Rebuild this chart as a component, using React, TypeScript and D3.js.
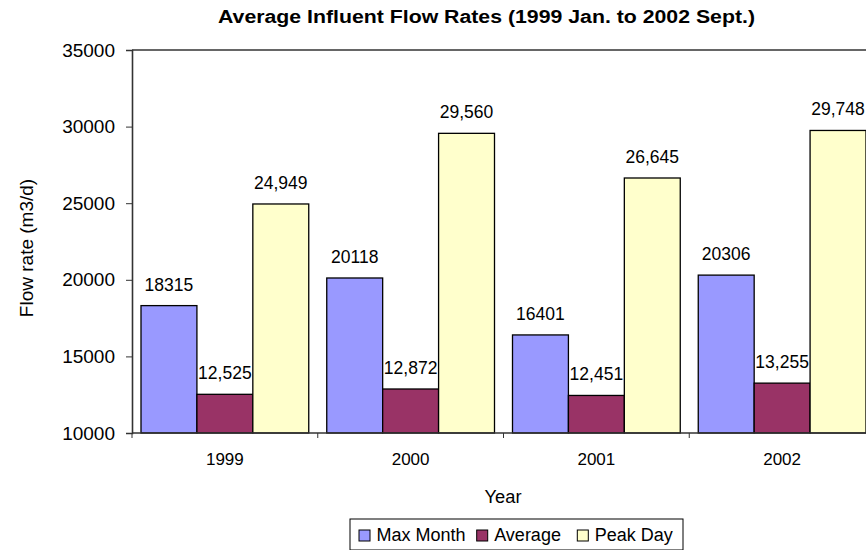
import { useEffect, useRef } from "react";
import * as d3 from "d3";

const years = ["1999", "2000", "2001", "2002"];
const seriesNames = ["Max Month", "Average", "Peak Day"];
const maxMonth = [18315, 20118, 16401, 20306];
const average = [12525, 12872, 12451, 13255];
const peakDay = [24949, 29560, 26645, 29748];
const colors = ["#9999ff", "#993366", "#ffffcc"];
const yTicks = [10000, 15000, 20000, 25000, 30000, 35000];

const App = () => {
  const svgRef = useRef<SVGSVGElement>(null);

  useEffect(() => {
    const width = 866;
    const height = 550;
    const left = 132;
    const right = 875;
    const top = 50;
    const bottom = 433;
    const font = "'Liberation Sans', Arial, sans-serif";

    const svg = d3.select(svgRef.current);
    svg.selectAll("*").remove();
    svg.attr("width", width).attr("height", height).style("font-family", font);

    const x0 = d3.scaleBand().domain(years).range([left, right]);
    const x1 = d3
      .scaleBand()
      .domain(seriesNames)
      .range([9, x0.bandwidth() - 9]);
    const y = d3.scaleLinear().domain([10000, 35000]).range([bottom, top]);

    const values = [maxMonth, average, peakDay];
    const fmt = [(v: number) => String(v), d3.format(","), d3.format(",")];

    // title
    svg
      .append("text")
      .attr("x", 486.5)
      .attr("y", 23)
      .attr("text-anchor", "middle")
      .attr("font-weight", "bold")
      .attr("font-size", 18)
      .attr("textLength", 537)
      .attr("lengthAdjust", "spacingAndGlyphs")
      .text("Average Influent Flow Rates (1999 Jan. to 2002 Sept.)");

    // top border line
    svg
      .append("line")
      .attr("x1", left)
      .attr("x2", right)
      .attr("y1", top)
      .attr("y2", top)
      .attr("stroke", "#333")
      .attr("stroke-width", 1.3);

    // bars
    seriesNames.forEach((s, si) => {
      svg
        .append("g")
        .selectAll("rect")
        .data(values[si])
        .join("rect")
        .attr("x", (d, i) => (x0(years[i]) as number) + (x1(s) as number))
        .attr("y", (d) => y(d))
        .attr("width", x1.bandwidth())
        .attr("height", (d) => bottom - y(d))
        .attr("fill", colors[si])
        .attr("stroke", "#000")
        .attr("stroke-width", 1.3);

      svg
        .append("g")
        .selectAll("text")
        .data(values[si])
        .join("text")
        .attr("x", (d, i) => (x0(years[i]) as number) + (x1(s) as number) + x1.bandwidth() / 2)
        .attr("y", (d) => y(d) - 15)
        .attr("text-anchor", "middle")
        .attr("font-size", 17.5)
        .text((d) => fmt[si](d));
    });

    // y axis
    const yAxis = d3
      .axisLeft(y)
      .tickValues(yTicks)
      .tickSize(6)
      .tickPadding(11)
      .tickFormat((d) => String(d));
    const gy = svg.append("g").attr("transform", `translate(${left},0)`).call(yAxis);
    gy.select(".domain").attr("stroke", "#333").attr("stroke-width", 1.6);
    gy.selectAll(".tick line").attr("stroke", "#333");
    gy.selectAll("text").attr("font-size", 19).attr("font-family", font).attr("fill", "#000");

    // x axis
    const gx = svg.append("g").attr("transform", `translate(0,${bottom})`);
    gx.append("line")
      .attr("x1", left)
      .attr("x2", right)
      .attr("stroke", "#333")
      .attr("stroke-width", 1.3);
    gx.selectAll("line.tick")
      .data(years.concat(["end"]))
      .join("line")
      .attr("class", "tick")
      .attr("x1", (d, i) => left + i * x0.bandwidth())
      .attr("x2", (d, i) => left + i * x0.bandwidth())
      .attr("y1", 0)
      .attr("y2", 5)
      .attr("stroke", "#333");
    gx.selectAll("text")
      .data(years)
      .join("text")
      .attr("x", (d) => (x0(d) as number) + x0.bandwidth() / 2)
      .attr("y", 32)
      .attr("text-anchor", "middle")
      .attr("font-size", 17)
      .text((d) => d);

    // axis titles
    svg
      .append("text")
      .attr("x", 503)
      .attr("y", 503)
      .attr("text-anchor", "middle")
      .attr("font-size", 18.3)
      .text("Year");
    svg
      .append("text")
      .attr("transform", `translate(33,248) rotate(-90)`)
      .attr("text-anchor", "middle")
      .attr("font-size", 19)
      .text("Flow rate (m3/d)");

    // legend
    const lg = svg.append("g").attr("transform", "translate(350,519)");
    lg.append("rect")
      .attr("width", 333)
      .attr("height", 31)
      .attr("fill", "#fff")
      .attr("stroke", "#000");
    const offsets = [9, 126.7, 227.3];
    seriesNames.forEach((s, i) => {
      lg.append("rect")
        .attr("x", offsets[i])
        .attr("y", 11)
        .attr("width", 11)
        .attr("height", 11)
        .attr("fill", colors[i])
        .attr("stroke", "#000");
      lg.append("text")
        .attr("x", offsets[i] + 17.5)
        .attr("y", 22)
        .attr("font-size", 18)
        .text(s);
    });
  }, []);

  return <svg ref={svgRef} style={{ display: "block", position: "absolute", left: 0, top: 0 }}></svg>;
};

export default App;
